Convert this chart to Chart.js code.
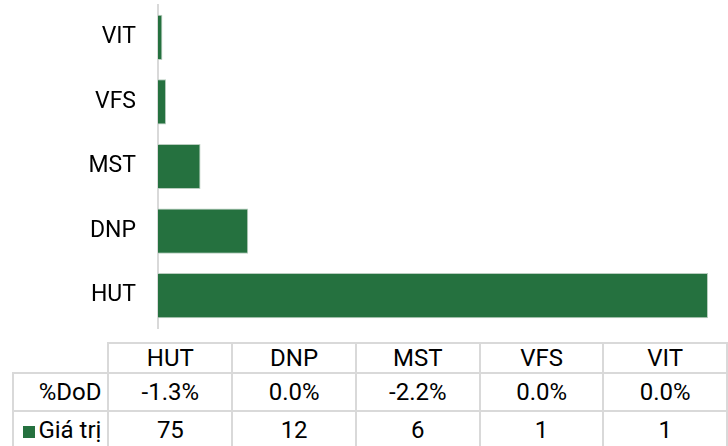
<!DOCTYPE html>
<html lang="vi">
<head>
<meta charset="UTF-8">
<title>Giá trị</title>
<script src="https://cdn.jsdelivr.net/npm/chart.js"></script>
<style>
    body { margin: 0; background: #fff; font-family: Roboto, sans-serif; }
    .wrap { position: relative; width: 728px; height: 446px; overflow: hidden; }
    #barChart { position: absolute; left: 0; top: 0; }
    #dataTable {
        position: absolute; left: 12px; top: 342px;
        border-collapse: collapse; table-layout: fixed;
        font-family: Roboto, sans-serif; font-size: 24px; color: #000;
    }
    #dataTable td { border: 2px solid #d9d9d9; text-align: center; padding: 0; white-space: nowrap; }
    #dataTable tr.head td { height: 28px; line-height: 28px; }
    #dataTable tr.body td { height: 36px; line-height: 36px; }
    #dataTable td.corner { border-top: none; border-left: none; }
    #dataTable td.lbl { text-align: right; padding-right: 6px; }
    .key { display: inline-block; width: 12px; height: 12px; background: #25713f; margin-right: 3px; vertical-align: 0px; }
</style>
</head>
<body>
<div class="wrap">
    <canvas id="barChart" width="728" height="335"></canvas>
    <table id="dataTable"></table>
</div>
<script>
    // categories as they appear top -> bottom on the bar chart
    const categories = ['VIT', 'VFS', 'MST', 'DNP', 'HUT'];
    const values = [0.6, 1.1, 5.8, 12.3, 75];
    const dod = [0.0, 0.0, -2.2, 0.0, -1.3];

    const green = '#25713f';

    // data table under the chart (order HUT -> VIT)
    function buildTable() {
        const order = categories.map((c, i) => i).reverse();
        let html = '<colgroup><col style="width:96px">';
        order.forEach(() => { html += '<col style="width:128px">'; });
        html += '</colgroup>';
        html += '<tr class="head"><td class="corner"></td>';
        order.forEach(i => { html += '<td>' + categories[i] + '</td>'; });
        html += '</tr><tr class="body"><td class="lbl">%DoD</td>';
        order.forEach(i => { html += '<td>' + dod[i].toFixed(1) + '%</td>'; });
        html += '</tr><tr class="body"><td class="lbl"><span class="key"></span>Giá trị</td>';
        order.forEach(i => { html += '<td>' + Math.round(values[i]) + '</td>'; });
        html += '</tr>';
        document.getElementById('dataTable').innerHTML = html;
    }
    buildTable();

    const ctx = document.getElementById('barChart').getContext('2d');
    const barChart = new Chart(ctx, {
        type: 'bar',
        data: {
            labels: categories,
            datasets: [{
                label: 'Giá trị',
                data: values,
                backgroundColor: green,
                borderColor: '#b9cdbf',
                borderWidth: 1,
                barPercentage: 0.7,
                categoryPercentage: 1.0
            }]
        },
        options: {
            indexAxis: 'y',
            responsive: false,
            animation: false,
            layout: { padding: { top: 5, bottom: 7, left: 0, right: 20 } },
            plugins: {
                legend: { display: false },
                tooltip: { enabled: false }
            },
            scales: {
                x: { display: false, min: 0, max: 75 },
                y: {
                    grid: { display: false, drawTicks: false },
                    border: { display: true, color: '#d9d9d9', width: 2 },
                    ticks: {
                        color: '#000',
                        padding: 22,
                        font: { family: 'Roboto', size: 23 }
                    },
                    afterFit: function (scale) {
                        // fixed label column, and no extra top/bottom room for the labels
                        scale.width = 158;
                        scale.paddingTop = 0;
                        scale.paddingBottom = 0;
                    }
                }
            }
        }
    });
</script>
</body>
</html>
